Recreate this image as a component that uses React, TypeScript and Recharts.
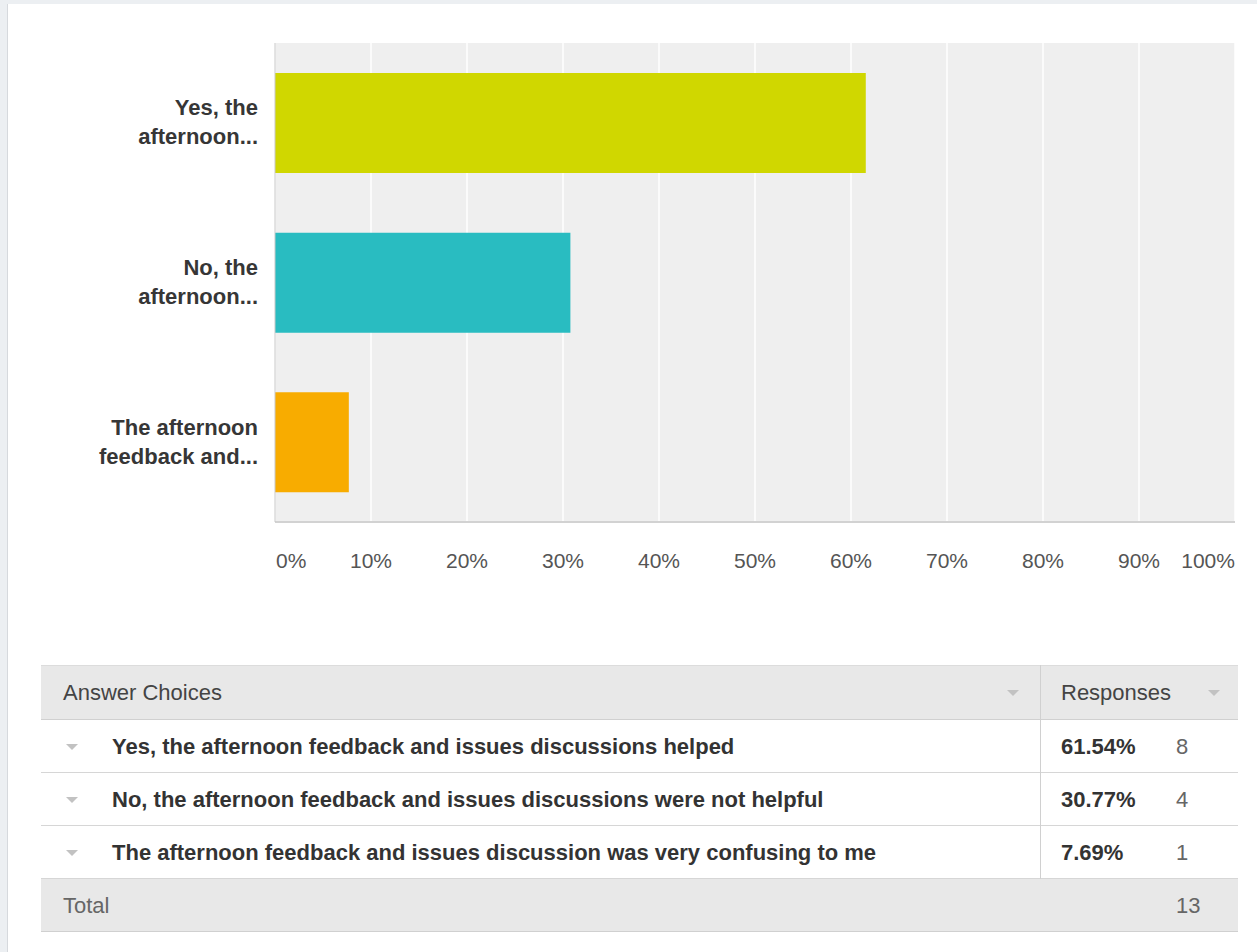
import React from "react";
import { BarChart, Bar, Cell, XAxis, YAxis, CartesianGrid } from "recharts";

const answers = [
  "Yes, the afternoon feedback and issues discussions helped",
  "No, the afternoon feedback and issues discussions were not helpful",
  "The afternoon feedback and issues discussion was very confusing to me",
];
const axisLabels = [
  ["Yes, the", "afternoon..."],
  ["No, the", "afternoon..."],
  ["The afternoon", "feedback and..."],
];
const percents = [61.54, 30.77, 7.69];
const counts = [8, 4, 1];
const barColors = ["#d0d700", "#29bcc1", "#f8ac00"];
const xTicks = [0, 10, 20, 30, 40, 50, 60, 70, 80, 90, 100];

const FONT = "'Liberation Sans', Arial, Helvetica, sans-serif";

const data = answers.map((a, i) => ({ key: String(i), answer: a, pct: percents[i] }));

function YTick(props: any) {
  const { x, y, payload } = props;
  const lines = axisLabels[Number(payload.value)] || [];
  return (
    <g>
      {lines.map((l, i) => (
        <text
          key={i}
          x={x - 11}
          y={y - 15 + i * 29}
          textAnchor="end"
          dominantBaseline="central"
          fontFamily={FONT}
          fontSize={22}
          fontWeight="bold"
          fill="#363636"
        >
          {l}
        </text>
      ))}
    </g>
  );
}

function XTick(props: any) {
  const { x, y, payload, index } = props;
  const anchor = index === 0 ? "start" : index === xTicks.length - 1 ? "end" : "middle";
  return (
    <text
      x={index === 0 ? x + 1 : x}
      y={y + 32}
      textAnchor={anchor}
      dominantBaseline="central"
      fontFamily={FONT}
      fontSize={21}
      fill="#555"
    >
      {payload.value}%
    </text>
  );
}

function Caret({ x, y }: { x: number; y: number }) {
  return (
    <svg
      width={12}
      height={7}
      style={{ position: "absolute", left: x - 6, top: y - 3 }}
    >
      <polygon points="0,0 12,0 6,6" fill="#c2c2c2" />
    </svg>
  );
}

const ROW_H = 53;
const TXT = 22;

export default function App() {
  const tableTop = 665;
  const tableLeft = 41;
  const tableRight = 1238;
  const colX = 1040;
  return (
    <div
      style={{
        position: "absolute",
        left: 0,
        top: 0,
        width: 1257,
        height: 952,
        background: "#eceff2",
        overflow: "hidden",
        fontFamily: FONT,
      }}
    >
      <div
        style={{
          position: "absolute",
          left: 7,
          top: 4,
          width: 1250,
          height: 948,
          background: "#fff",
          borderLeft: "1px solid #d6d9dd",
        }}
      />
      <div style={{ position: "absolute", left: 0, top: 0 }}>
        <BarChart
          width={1257}
          height={600}
          data={data}
          layout="vertical"
          margin={{ top: 43, right: 22, bottom: 18, left: 0 }}
          barSize={100}
        >
          <CartesianGrid
            horizontal={false}
            vertical={true}
            fill="#efefef"
            stroke="#ffffff"
            strokeWidth={1.5}
          />
          <XAxis
            type="number"
            domain={[0, 100]}
            ticks={xTicks}
            interval={0}
            height={60}
            tickLine={false}
            tickMargin={0}
            axisLine={{ stroke: "#d2d2d2", strokeWidth: 2 }}
            tick={<XTick />}
          />
          <YAxis
            type="category"
            dataKey="key"
            width={275}
            tickLine={false}
            tickMargin={0}
            axisLine={{ stroke: "#c8c8c8" }}
            tick={<YTick />}
          />
          <Bar dataKey="pct" isAnimationActive={false}>
            {data.map((d, i) => (
              <Cell key={d.key} fill={barColors[i]} />
            ))}
          </Bar>
        </BarChart>
      </div>

      {/* response table */}
      <div
        style={{
          position: "absolute",
          left: tableLeft,
          top: tableTop,
          width: tableRight - tableLeft,
          height: 55,
          background: "#e8e8e8",
          borderTop: "1px solid #dcdcdc",
          borderBottom: "1px solid #d0d0d0",
          boxSizing: "border-box",
        }}
      />
      <div style={{ position: "absolute", left: 63, top: tableTop + 15, fontSize: TXT, color: "#444" }}>
        Answer Choices
      </div>
      <Caret x={1013} y={tableTop + 28} />
      <div style={{ position: "absolute", left: 1061, top: tableTop + 15, fontSize: TXT, color: "#444" }}>
        Responses
      </div>
      <Caret x={1214} y={tableTop + 28} />

      {answers.map((a, i) => {
        const top = tableTop + 55 + i * ROW_H;
        return (
          <React.Fragment key={a}>
            <div
              style={{
                position: "absolute",
                left: tableLeft,
                top,
                width: tableRight - tableLeft,
                height: ROW_H,
                borderBottom: "1px solid #d6d6d6",
                boxSizing: "border-box",
              }}
            />
            <Caret x={72} y={top + 27} />
            <div
              style={{
                position: "absolute",
                left: 112,
                top: top + 14,
                fontSize: TXT,
                fontWeight: "bold",
                color: "#333",
              }}
            >
              {a}
            </div>
            <div
              style={{
                position: "absolute",
                left: 1061,
                top: top + 14,
                fontSize: TXT,
                fontWeight: "bold",
                color: "#333",
              }}
            >
              {percents[i].toFixed(2)}%
            </div>
            <div
              style={{
                position: "absolute",
                left: 1176,
                top: top + 14,
                fontSize: TXT,
                color: "#666",
              }}
            >
              {counts[i]}
            </div>
          </React.Fragment>
        );
      })}
      <div
        style={{
          position: "absolute",
          left: colX,
          top: tableTop,
          width: 1,
          height: 55 + 3 * ROW_H,
          background: "#d0d0d0",
        }}
      />
      <div
        style={{
          position: "absolute",
          left: tableLeft,
          top: tableTop + 55 + 3 * ROW_H,
          width: tableRight - tableLeft,
          height: ROW_H,
          background: "#e8e8e8",
          borderBottom: "1px solid #d0d0d0",
          boxSizing: "border-box",
        }}
      />
      <div
        style={{
          position: "absolute",
          left: 63,
          top: tableTop + 55 + 3 * ROW_H + 14,
          fontSize: TXT,
          color: "#666",
        }}
      >
        Total
      </div>
      <div
        style={{
          position: "absolute",
          left: 1176,
          top: tableTop + 55 + 3 * ROW_H + 14,
          fontSize: TXT,
          color: "#666",
        }}
      >
        {counts.reduce((s, c) => s + c, 0)}
      </div>
    </div>
  );
}
